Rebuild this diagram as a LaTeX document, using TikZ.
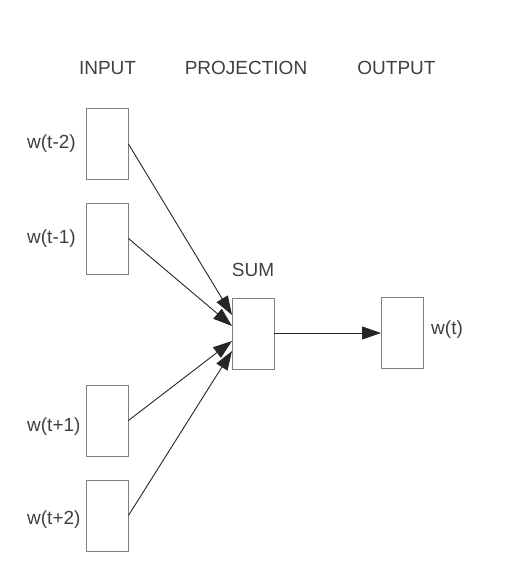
\documentclass[tikz,border=0pt]{standalone}
\usepackage{fontspec}
\setmainfont{Liberation Sans}
\usetikzlibrary{arrows.meta}
\begin{document}
\begin{tikzpicture}[x=1pt,y=-1pt,
  box/.style={draw=black!50, line width=0.9pt, minimum width=42pt, minimum height=71pt, inner sep=0pt},
  lbl/.style={text=black!75, font=\fontsize{19}{22}\selectfont, inner sep=0pt},
  conn/.style={draw=black!85, line width=0.9pt, -{Triangle[length=19pt,width=13pt]}}]
\useasboundingbox (0,0) rectangle (510,578);
\node[lbl] (tin) at (107.5,68) {INPUT};
\node[lbl] (tproj) at (246,68) {PROJECTION};
\node[lbl] (tout) at (396.5,68) {OUTPUT};
\node[box] (i1) at (107,144) {};
\node[box] (i2) at (107,238.5) {};
\node[box] (i3) at (107,420.5) {};
\node[box] (i4) at (107,515.5) {};
\node[box] (s) at (253,333.5) {};
\node[box] (o) at (402.5,333) {};
\node[lbl, anchor=west] (l1) at (27,144) {w(t-2)};
\node[lbl, anchor=west] (l2) at (27,239) {w(t-1)};
\node[lbl, anchor=west] (l3) at (27,427) {w(t+1)};
\node[lbl, anchor=west] (l4) at (27,520) {w(t+2)};
\node[lbl] (lsum) at (253,270) {SUM};
\node[lbl, anchor=west] (lw) at (431,330) {w(t)};
\coordinate (a1) at (232,315);
\coordinate (a2) at (232,326);
\coordinate (a3) at (232,341);
\coordinate (a4) at (232,351);
\draw[conn] (i1.east) -- (a1);
\draw[conn] (i2.east) -- (a2);
\draw[conn] (i3.east) -- (a3);
\draw[conn] (i4.east) -- (a4);
\draw[conn] (s.east |- o.west) -- (o.west);
\end{tikzpicture}
\end{document}
